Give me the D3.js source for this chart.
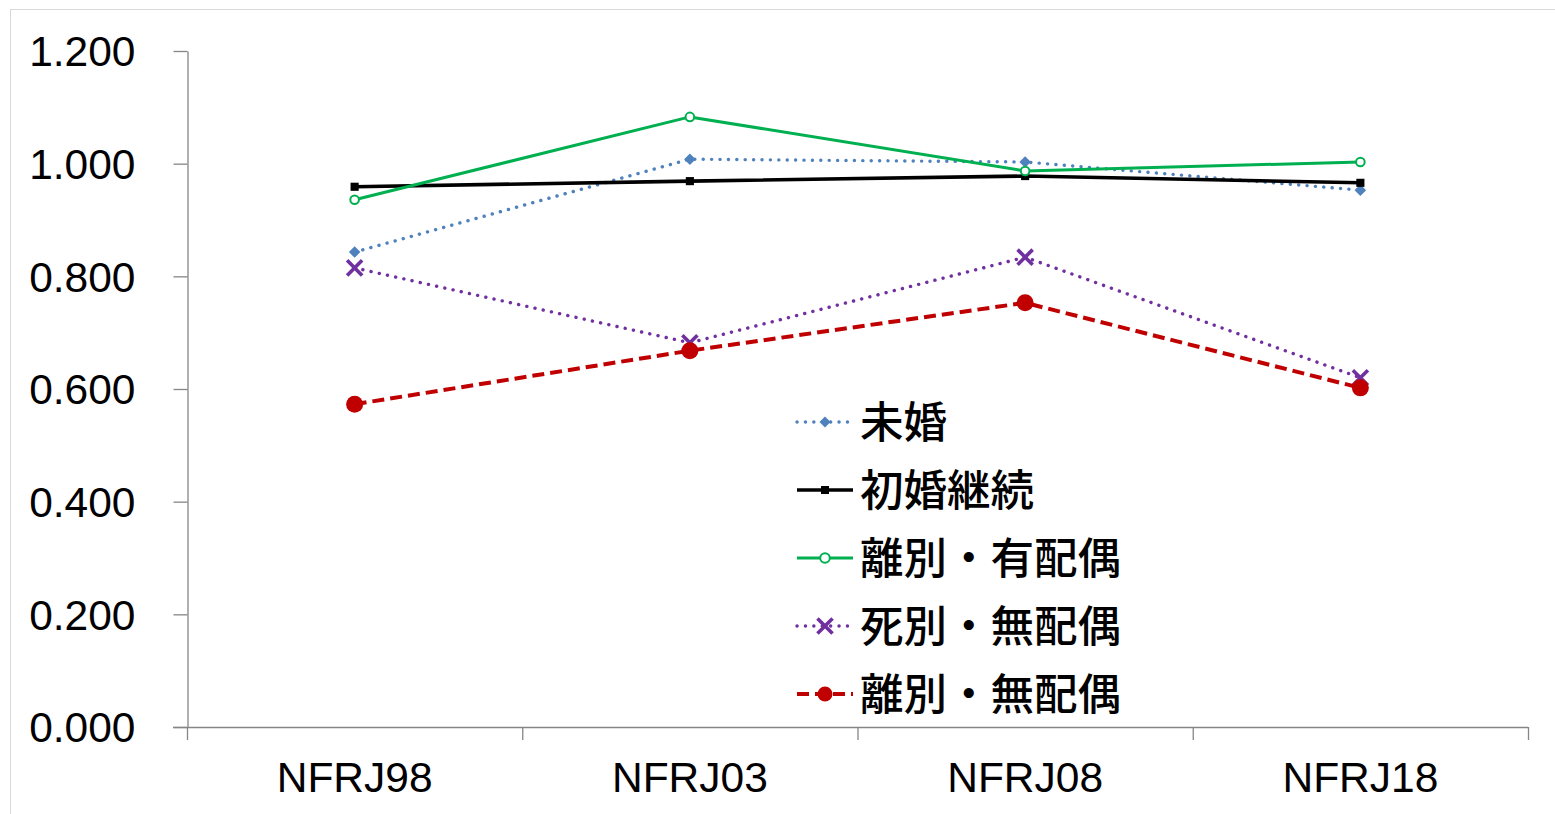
<!DOCTYPE html>
<html>
<head>
<meta charset="utf-8">
<script src="https://cdn.jsdelivr.net/npm/d3@7"></script>
<style>
  html, body { margin: 0; padding: 0; background: #fff; }
  svg { display: block; }
</style>
</head>
<body>
<svg id="chart" width="1555" height="814"></svg>
<script>
// Survey waves on the x axis
const categories = ["NFRJ98", "NFRJ03", "NFRJ08", "NFRJ18"];

// Values per marital-status group
const mikon        = [0.843, 1.008, 1.003, 0.953];  // 未婚
const shokonKeizoku = [0.959, 0.969, 0.978, 0.966]; // 初婚継続
const rikoYuhaigu  = [0.936, 1.083, 0.987, 1.003];  // 離別・有配偶
const shibetsuMuhaigu = [0.815, 0.682, 0.834, 0.620]; // 死別・無配偶
const rikoMuhaigu  = [0.573, 0.668, 0.753, 0.602];  // 離別・無配偶

const seriesNames = ["未婚", "初婚継続", "離別・有配偶", "死別・無配偶", "離別・無配偶"];
const seriesValues = [mikon, shokonKeizoku, rikoYuhaigu, shibetsuMuhaigu, rikoMuhaigu];

const yTicks = [0, 0.2, 0.4, 0.6, 0.8, 1.0, 1.2];

// Visual style of each series
const styles = [
  { color: "#4f81bd", width: 3.4, dash: "0.1 8.3", cap: "round", marker: "diamond", size: 66, legendSize: 60 },
  { color: "#000000", width: 3.6, dash: null, cap: "butt", marker: "square", size: 66, legendSize: 64 },
  { color: "#00b050", width: 3, dash: null, cap: "butt", marker: "ring", size: 4.3, legendSize: 4.8 },
  { color: "#7030a0", width: 3.4, dash: "0.1 8.3", cap: "round", marker: "times", size: 150, legendSize: 150 },
  { color: "#c00000", width: 4, dash: "12 6", cap: "butt", marker: "dot", size: 8.5, legendSize: 7.5 }
];

const svg = d3.select("#chart");

// Outer light frame
svg.append("line").attr("x1", 10).attr("x2", 1555).attr("y1", 9.5).attr("y2", 9.5)
  .attr("stroke", "#d9d9d9").attr("stroke-width", 1);
svg.append("line").attr("x1", 10.5).attr("x2", 10.5).attr("y1", 9).attr("y2", 814)
  .attr("stroke", "#d9d9d9").attr("stroke-width", 1);

const x = d3.scaleBand().domain(categories).range([187, 1528]).paddingInner(0).paddingOuter(0);
const y = d3.scaleLinear().domain([0, 1.2]).range([727, 51]);
const cx = c => x(c) + x.bandwidth() / 2;

const axisColor = "#868686";
const font = "'Liberation Sans', Arial, sans-serif";

// Y axis
const yAxis = d3.axisLeft(y).tickValues(yTicks).tickFormat(d3.format(".3f"))
  .tickSizeInner(14).tickSizeOuter(0).tickPadding(38);
const gy = svg.append("g").attr("transform", "translate(187.5,0)").call(yAxis);
gy.select(".domain").attr("stroke", axisColor).attr("stroke-width", 1.3);
gy.selectAll(".tick line").attr("stroke", axisColor).attr("stroke-width", 1.3);
gy.selectAll(".tick text").attr("fill", "#000").style("font-family", font).style("font-size", "42.5px")
  .attr("dy", "0.35em");

// X axis line and category boundary ticks
const xg = svg.append("g");
xg.append("line").attr("x1", 173).attr("x2", 1528).attr("y1", y(0) + 0.5).attr("y2", y(0) + 0.5)
  .attr("stroke", axisColor).attr("stroke-width", 1.3);
const boundaries = categories.map(c => x(c)).concat([x.range()[1]]);
xg.selectAll("line.xt").data(boundaries).join("line").attr("class", "xt")
  .attr("x1", d => d + 0.5).attr("x2", d => d + 0.5)
  .attr("y1", y(0)).attr("y2", y(0) + 13)
  .attr("stroke", axisColor).attr("stroke-width", 1.3);
xg.selectAll("text").data(categories).join("text")
  .attr("x", d => cx(d)).attr("y", 792)
  .attr("text-anchor", "middle")
  .style("font-family", font).style("font-size", "42.5px").attr("fill", "#000")
  .text(d => d);

// Marker drawing helper
function drawMarker(g, st, px, py, legend) {
  const s = legend ? st.legendSize : st.size;
  if (st.marker === "diamond") {
    g.append("path").attr("d", d3.symbol(d3.symbolSquare, s)())
      .attr("transform", `translate(${px},${py}) rotate(45)`).attr("fill", st.color);
  } else if (st.marker === "square") {
    g.append("path").attr("d", d3.symbol(d3.symbolSquare, s)())
      .attr("transform", `translate(${px},${py})`).attr("fill", st.color);
  } else if (st.marker === "ring") {
    g.append("circle").attr("cx", px).attr("cy", py).attr("r", s)
      .attr("fill", "#fff").attr("stroke", st.color).attr("stroke-width", 2);
  } else if (st.marker === "times") {
    g.append("path").attr("d", d3.symbol(d3.symbolTimes, s)())
      .attr("transform", `translate(${px},${py})`).attr("fill", "none")
      .attr("stroke", st.color).attr("stroke-width", 3.6);
  } else if (st.marker === "dot") {
    g.append("circle").attr("cx", px).attr("cy", py).attr("r", s).attr("fill", st.color);
  }
}

// Series lines and markers
const line = d3.line().x((d, i) => cx(categories[i])).y(d => y(d));
seriesValues.forEach((vals, k) => {
  const st = styles[k];
  const g = svg.append("g");
  g.append("path").datum(vals).attr("d", line)
    .attr("fill", "none").attr("stroke", st.color).attr("stroke-width", st.width)
    .attr("stroke-dasharray", st.dash).attr("stroke-linecap", st.cap)
    .attr("stroke-linejoin", "round");
  vals.forEach((v, i) => drawMarker(g, st, cx(categories[i]), y(v), false));
});

// Legend
const legend = svg.append("g");
const legendY0 = 422, legendStep = 68;
seriesNames.forEach((name, k) => {
  const st = styles[k];
  const ly = legendY0 + k * legendStep;
  const g = legend.append("g");
  g.append("line").attr("x1", 797).attr("x2", 853).attr("y1", ly).attr("y2", ly)
    .attr("stroke", st.color).attr("stroke-width", st.width)
    .attr("stroke-dasharray", st.dash).attr("stroke-linecap", st.cap);
  drawMarker(g, st, 825, ly, true);
  g.append("text").attr("x", 860).attr("y", ly).attr("dy", "0.36em")
    .style("font-family", "'Noto Sans CJK JP', sans-serif").style("font-size", "43.5px")
    .style("font-weight", 500)
    .attr("fill", "#000").text(name);
});
</script>
</body>
</html>
